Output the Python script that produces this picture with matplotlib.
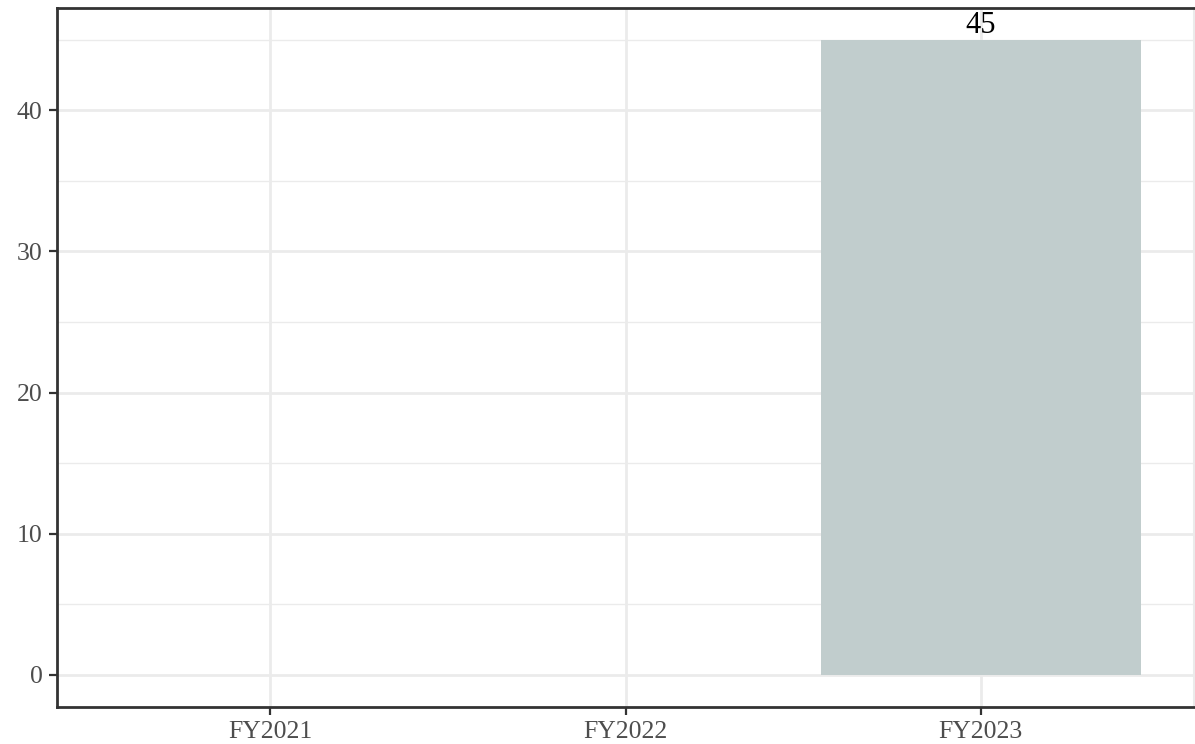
import numpy as np
import matplotlib
matplotlib.use('Agg')
import matplotlib.pyplot as plt
from matplotlib.ticker import MultipleLocator

plt.rcParams['font.family'] = ['Liberation Serif', 'DejaVu Serif']

years = ['FY2021', 'FY2022', 'FY2023']
values = [np.nan, np.nan, 45]
bar_color = '#C1CDCD'

fig = plt.figure(figsize=(11.95, 7.44), dpi=100)
ax = fig.add_axes([57/1195, 37.3/744, 1137/1195, 698.7/744])

x = np.arange(1, len(years) + 1)
ax.bar(x, values, width=0.9, color=bar_color, zorder=2)
for xi, v in zip(x, values):
    if not np.isnan(v):
        ax.annotate(f'{v:g}', (xi, v), xytext=(0, 0), textcoords='offset points',
                    ha='center', va='bottom', fontsize=22, color='black', zorder=3)

ax.set_xlim(0.4, 3.6)
ax.set_ylim(-2.25, 47.25)
ax.set_xticks(x)
ax.set_xticklabels(years)
ax.yaxis.set_major_locator(MultipleLocator(10))
ax.yaxis.set_minor_locator(MultipleLocator(5))

ax.grid(which='major', color='#EBEBEB', linewidth=2, zorder=0)
ax.grid(which='minor', axis='y', color='#EBEBEB', linewidth=1, zorder=0)
ax.set_axisbelow(True)

for side in ['left', 'bottom', 'top']:
    ax.spines[side].set_color('#333333')
    ax.spines[side].set_linewidth(2)
ax.spines['right'].set_color('#EBEBEB')
ax.spines['right'].set_linewidth(1.5)

ax.tick_params(which='major', length=5.5, width=1.6, color='#333333',
               labelsize=18.5, labelcolor='#4D4D4D', pad=5)
ax.tick_params(which='minor', length=0)

fig.savefig('out.png', dpi=100)
